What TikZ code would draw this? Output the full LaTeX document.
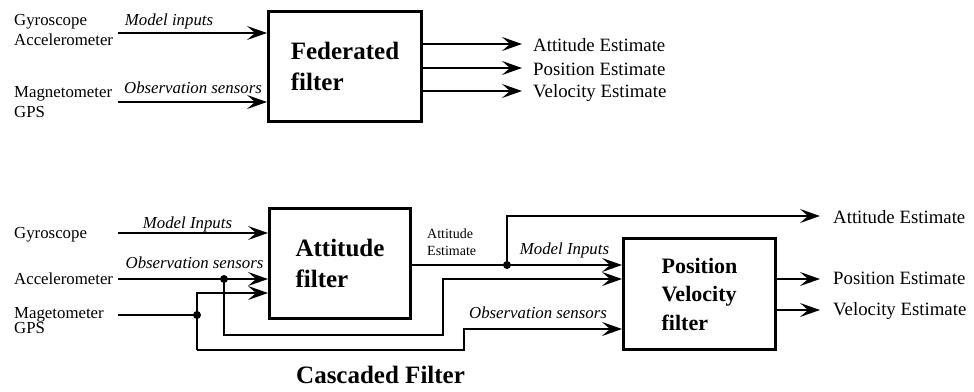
\documentclass[tikz,border=0pt]{standalone}
\usepackage{fontspec}
\setmainfont{Liberation Serif}
\usetikzlibrary{arrows.meta}
\begin{document}
\begin{tikzpicture}[x=1pt,y=-1pt,
  arr/.style={-{Stealth[length=20pt,width=14pt,inset=8pt]}, line width=1.5pt},
  wire/.style={line width=1.5pt},
  box/.style={draw, line width=2.6pt, inner sep=0pt, align=left},
  boxtxt/.style={font=\fontsize{25}{31}\selectfont\bfseries},
  lbl/.style={font=\fontsize{16.8}{19}\selectfont, inner sep=0pt, anchor=base west},
  ilbl/.style={font=\fontsize{16.8}{19}\selectfont\itshape, inner sep=0pt, anchor=base},
  olbl/.style={font=\fontsize{18.8}{21}\selectfont, inner sep=0pt, anchor=base west},
  slbl/.style={font=\fontsize{14}{17}\selectfont, inner sep=0pt, align=left, anchor=north west},
  dot/.style={circle, fill, inner sep=0pt, minimum size=8pt}
]
\useasboundingbox (0,0) rectangle (974,391);

% ---------- Federated ----------
\node[box, boxtxt, minimum width=153.4pt, minimum height=110.4pt] (fed) at (345,66.5) {Federated\\filter};
\node[lbl] (gy1) at (14,25) {Gyroscope};
\node[lbl] (ac1) at (14,45) {Accelerometer};
\node[lbl] (mg1) at (14,97) {Magnetometer};
\node[lbl] (gp1) at (14,117) {GPS};
\node[ilbl] (mi1) at (169,25) {Model inputs};
\node[ilbl] (os1) at (193,93) {Observation sensors};
\coordinate (s1) at (118,33);
\coordinate (s2) at (118,102);
\draw[arr] (s1) -- (fed.west |- s1);
\draw[arr] (s2) -- (fed.west |- s2);
\coordinate (e1) at (522,44);
\coordinate (e2) at (522,68);
\coordinate (e3) at (522,91);
\draw[arr] (fed.east |- e1) -- (e1);
\draw[arr] (fed.east |- e2) -- (e2);
\draw[arr] (fed.east |- e3) -- (e3);
\node[olbl] (ae1) at (533,51) {Attitude Estimate};
\node[olbl] (pe1) at (533,75) {Position Estimate};
\node[olbl] (ve1) at (533,97) {Velocity Estimate};

% ---------- Cascaded ----------
\node[box, boxtxt, minimum width=141.4pt, minimum height=110.4pt] (att) at (340,263.5) {Attitude\\filter};
\node[box, font=\fontsize{22}{28.5}\selectfont\bfseries, minimum width=152.4pt, minimum height=111.4pt] (pv) at (699.5,294) {Position\\Velocity\\filter};

\node[lbl] (gy2) at (14,238) {Gyroscope};
\node[lbl] (ac2) at (14,284) {Accelerometer};
\node[lbl] (mg2) at (14,318) {Magetometer};
\node[lbl] (gp2) at (14,333) {GPS};
\node[ilbl] (mi2) at (187.5,228) {Model Inputs};
\node[ilbl] (os2) at (194.5,268) {Observation sensors};
\node[ilbl] (mi3) at (564.5,254) {Model Inputs};
\node[ilbl] (os3) at (538,318) {Observation sensors};
\node[slbl] (ae2) at (427,229) {Attitude\\Estimate};

\coordinate (g0) at (118,233);
\coordinate (a0) at (118,279);
\coordinate (m0) at (118,315);
\draw[arr] (g0) -- (att.west |- g0);
\draw[arr] (a0) -- (att.west |- a0);
\node[dot] (da) at (224,279) {};
\node[dot] (dm) at (197,315) {};
\draw[wire] (m0) -- (dm.center);

% accelerometer branch to PV
\coordinate (b1) at (224,335);
\coordinate (b2) at (443,335);
\coordinate (b3) at (443,279);
\draw[arr] (da.center) -- (b1) -- (b2) -- (b3) -- (pv.west |- b3);

% magnetometer branches
\coordinate (c0) at (197,293);
\coordinate (c1) at (197,350);
\coordinate (c2) at (464,350);
\coordinate (c3) at (464,329);
\draw[arr] (c1) -- (c0) -- (att.west |- c0);
\draw[arr] (c1) -- (c2) -- (c3) -- (pv.west |- c3);

% attitude estimate
\coordinate (t0) at (412,265);
\node[dot] (dt) at (507,265) {};
\draw[arr] (att.east |- t0) -- (pv.west |- t0);
\coordinate (u1) at (507,216);
\coordinate (u2) at (820,216);
\draw[arr] (dt.center) -- (u1) -- (u2);
\node[olbl] (ae3) at (833,223) {Attitude Estimate};

\coordinate (p1) at (820,279);
\coordinate (p2) at (820,310);
\draw[arr] (pv.east |- p1) -- (p1);
\draw[arr] (pv.east |- p2) -- (p2);
\node[olbl] (pe3) at (833,284) {Position Estimate};
\node[olbl] (ve3) at (833,315) {Velocity Estimate};

\node[font=\fontsize{25}{31}\selectfont\bfseries, inner sep=0pt, anchor=base west] (cf) at (296,383) {Cascaded Filter};
\end{tikzpicture}
\end{document}
